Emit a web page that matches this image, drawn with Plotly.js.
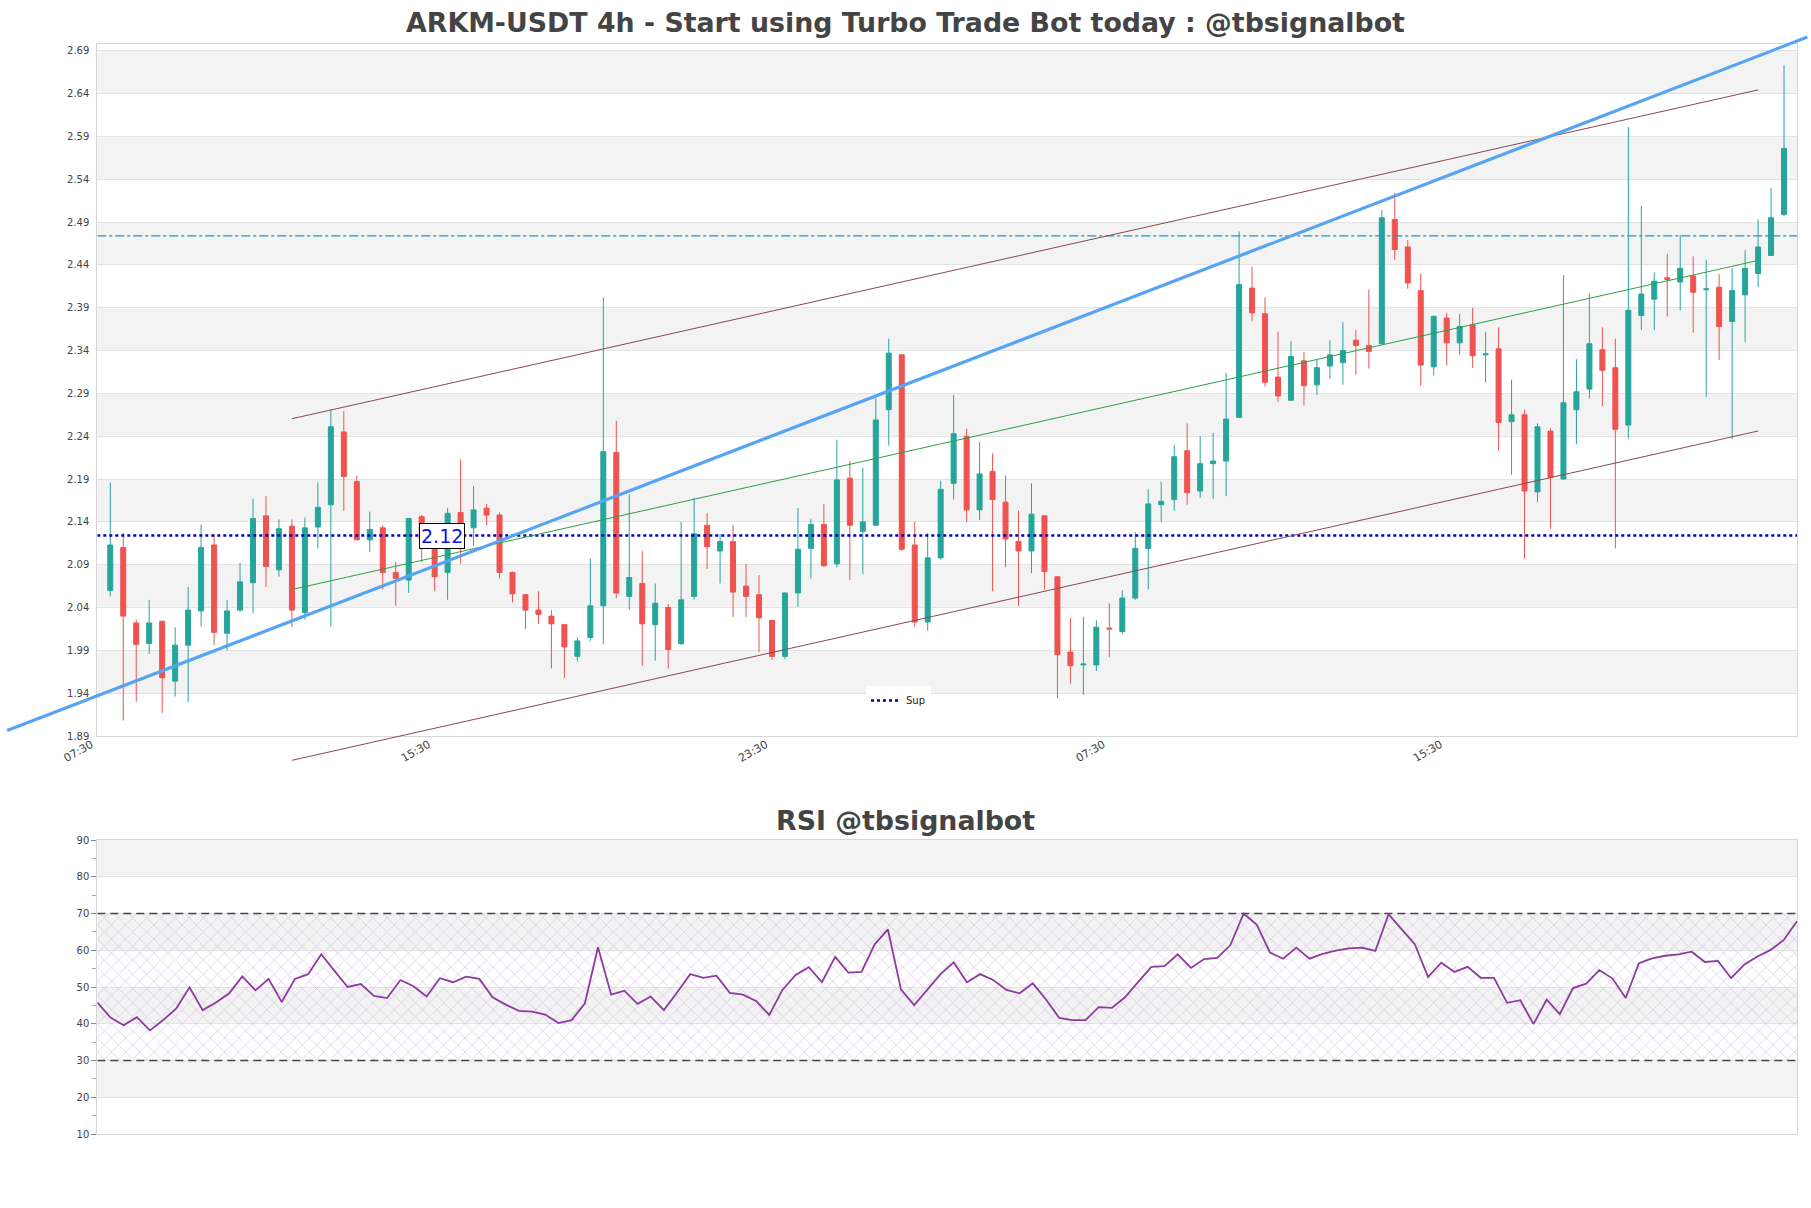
<!DOCTYPE html>
<html>
<head>
<meta charset="utf-8">
<script src="https://cdn.plot.ly/plotly-3.0.1.min.js"></script>
<style>html,body{margin:0;padding:0;background:#fff;}#chart{width:1811px;height:1208px;}</style>
</head>
<body>
<div id="chart"></div>
<script>
// ---- data ----
const opens = [2.060,2.110,2.022,1.998,2.024,1.954,1.996,2.036,2.113,2.010,
2.037,2.069,2.147,2.084,2.135,2.034,2.134,2.160,2.245,2.187,
2.119,2.133,2.081,2.072,2.146,2.118,2.081,2.151,2.133,2.156,
2.148,2.081,2.055,2.037,2.030,2.020,1.983,2.005,2.042,2.221,
2.053,2.068,2.020,2.040,1.998,2.053,2.136,2.106,2.117,2.065,
2.055,2.025,1.983,2.057,2.109,2.137,2.091,2.191,2.129,2.136,
2.271,2.335,2.113,2.023,2.098,2.185,2.240,2.154,2.199,2.163,
2.117,2.106,2.147,2.076,1.988,1.973,1.973,2.016,2.012,2.051,
2.109,2.160,2.166,2.223,2.176,2.208,2.211,2.262,2.413,2.383,
2.309,2.282,2.328,2.300,2.322,2.326,2.352,2.346,2.348,2.493,
2.461,2.410,2.321,2.378,2.349,2.370,2.335,2.342,2.257,2.265,
2.175,2.246,2.190,2.271,2.295,2.341,2.320,2.253,2.381,2.400,
2.425,2.420,2.427,2.411,2.414,2.374,2.405,2.430,2.451,2.499];
const highs = [2.186,2.127,2.026,2.049,2.024,2.017,2.064,2.137,2.126,2.049,
2.092,2.167,2.170,2.143,2.143,2.145,2.186,2.271,2.269,2.194,
2.152,2.136,2.093,2.144,2.148,2.120,2.156,2.213,2.182,2.161,
2.151,2.082,2.055,2.059,2.037,2.020,2.005,2.097,2.402,2.258,
2.172,2.106,2.068,2.044,2.140,2.168,2.150,2.126,2.136,2.091,
2.078,2.025,2.057,2.156,2.144,2.161,2.236,2.211,2.203,2.285,
2.354,2.335,2.140,2.127,2.188,2.288,2.249,2.233,2.220,2.194,
2.153,2.185,2.148,2.076,2.028,2.029,2.025,2.045,2.060,2.128,
2.178,2.187,2.230,2.255,2.240,2.244,2.314,2.479,2.438,2.402,
2.362,2.351,2.338,2.329,2.352,2.373,2.364,2.411,2.504,2.524,
2.469,2.430,2.380,2.384,2.383,2.390,2.362,2.367,2.306,2.271,
2.255,2.249,2.428,2.330,2.407,2.367,2.354,2.601,2.509,2.431,
2.453,2.475,2.450,2.446,2.429,2.436,2.457,2.493,2.530,2.673];
const lows = [2.053,1.908,1.930,1.986,1.917,1.936,1.930,2.018,1.996,1.990,
2.035,2.033,2.064,2.076,2.017,2.026,2.109,2.018,2.153,2.119,
2.105,2.061,2.042,2.057,2.093,2.059,2.049,2.091,2.112,2.136,
2.074,2.046,2.015,2.021,1.969,1.958,1.977,2.001,1.997,2.051,
2.037,1.972,1.978,1.969,1.996,2.049,2.085,2.068,2.029,2.029,
1.988,1.979,1.980,2.041,2.074,2.087,2.087,2.072,2.079,2.136,
2.229,2.106,2.017,2.013,2.096,2.166,2.140,2.142,2.059,2.087,
2.042,2.080,2.061,1.934,1.951,1.938,1.966,1.982,2.009,2.049,
2.061,2.140,2.153,2.160,2.168,2.167,2.170,2.262,2.374,2.298,
2.280,2.282,2.276,2.288,2.307,2.300,2.312,2.319,2.347,2.446,
2.412,2.299,2.311,2.323,2.335,2.320,2.303,2.223,2.195,2.097,
2.163,2.132,2.189,2.231,2.284,2.275,2.109,2.237,2.364,2.364,
2.380,2.387,2.361,2.286,2.329,2.237,2.350,2.414,2.451,2.497];
const closes = [2.113,2.030,1.997,2.022,1.958,1.996,2.037,2.110,2.011,2.036,
2.070,2.144,2.088,2.132,2.037,2.133,2.157,2.251,2.193,2.119,
2.131,2.081,2.074,2.144,2.120,2.076,2.150,2.117,2.154,2.148,
2.081,2.056,2.037,2.032,2.021,1.994,2.001,2.042,2.222,2.057,
2.075,2.021,2.045,1.991,2.049,2.126,2.111,2.117,2.058,2.053,
2.028,1.983,2.057,2.108,2.137,2.089,2.189,2.136,2.140,2.259,
2.337,2.108,2.023,2.098,2.178,2.243,2.154,2.196,2.166,2.120,
2.106,2.149,2.082,1.985,1.972,1.974,2.017,2.015,2.051,2.109,
2.161,2.164,2.216,2.174,2.208,2.211,2.260,2.417,2.384,2.303,
2.287,2.333,2.299,2.320,2.335,2.340,2.346,2.339,2.495,2.458,
2.419,2.323,2.380,2.349,2.368,2.334,2.336,2.256,2.265,2.176,
2.251,2.192,2.279,2.292,2.348,2.317,2.248,2.387,2.406,2.421,
2.423,2.436,2.408,2.412,2.368,2.410,2.436,2.461,2.495,2.576];
const rsi = [45.8,41.7,39.6,41.8,38.2,41.0,44.2,49.9,43.7,45.8,
48.2,52.9,49.1,52.2,45.9,52.2,53.5,58.9,54.4,50.0,
50.8,47.6,47.0,51.9,50.2,47.4,52.4,51.3,52.8,52.2,
47.2,45.2,43.5,43.3,42.5,40.2,41.0,45.5,60.8,47.9,
49.0,45.4,47.4,43.7,48.5,53.5,52.5,53.1,48.4,47.9,
46.2,42.4,49.2,53.3,55.4,51.3,58.2,53.9,54.1,61.6,
65.7,49.3,45.1,49.3,53.5,56.7,51.3,53.5,51.9,49.2,
48.3,51.0,46.6,41.6,41.0,41.0,44.5,44.3,47.2,51.4,
55.5,55.7,58.9,55.2,57.6,57.9,61.4,70.0,66.9,59.4,
57.7,60.7,57.7,59.0,59.9,60.5,60.7,59.8,69.8,65.7,
61.6,52.7,56.6,54.1,55.5,52.5,52.5,45.7,46.4,39.9,
46.6,42.6,49.7,50.9,54.6,52.3,47.0,56.5,57.8,58.5,
58.9,59.6,56.8,57.1,52.4,56.1,58.3,60.1,62.8,67.9];

const xTickPos  = [-1, 25, 51, 77, 103];
const xTickText = ['07:30', '15:30', '23:30', '07:30', '15:30'];
const yTicks = [1.89,1.94,1.99,2.04,2.09,2.14,2.19,2.24,2.29,2.34,2.39,2.44,2.49,2.54,2.59,2.64,2.69];
const rsiTicks = [10,20,30,40,50,60,70,80,90];
const rsiLevels = [30, 70];

const supLevel = 2.124;     // "Sup" dotted line
const resLevel = 2.474;     // dash-dot line
const supLabelX = 25.6;

const trendX = [-7.95, 130.8];   const trendY = [1.8963, 2.706];
const chanX  = [14, 127];
const upperY = [2.2604, 2.6443];
const midY   = [2.0610, 2.4452];
const lowerY = [1.8616, 2.2461];

const titleText = 'ARKM-USDT 4h - Start using Turbo Trade Bot today : @tbsignalbot';
const rsiTitle  = 'RSI @tbsignalbot';

// ---- layout geometry ----
const W = 1811, H = 1208;
const N = closes.length;
const idx = closes.map((_, i) => i);
const xd  = [97.3 / W, 1797 / W];
const yd  = [1 - 736 / H, 1 - 43.5 / H];
const yd2 = [1 - 1134 / H, 1 - 840 / H];
const xr  = [-1, N];
const yr  = [1.89, 2.6985];
function extend(r, d) {
  const s = (r[1] - r[0]) / (d[1] - d[0]);
  return [r[0] - d[0] * s, r[1] + (1 - d[1]) * s];
}
const font = 'DejaVu Sans';
const gridC = '#e3e3e3', lineC = '#d6d6d6', bandC = '#f3f3f3';

const traces = [];
traces.push({
  type: 'candlestick', x: idx, open: opens, high: highs, low: lows, close: closes,
  xaxis: 'x', yaxis: 'y', showlegend: false, whiskerwidth: 0,
  increasing: {line: {color: '#26a69a', width: 1}, fillcolor: '#26a69a'},
  decreasing: {line: {color: '#ef5350', width: 1}, fillcolor: '#ef5350'},
  hoverinfo: 'skip'
});
traces.push({type: 'scatter', mode: 'lines', x: xr, y: [resLevel, resLevel], xaxis: 'x', yaxis: 'y',
  line: {color: '#1b95d4', width: 1.3, dash: 'dashdot'}, showlegend: false, hoverinfo: 'skip'});
traces.push({type: 'scatter', mode: 'lines', x: xr, y: [supLevel, supLevel], xaxis: 'x', yaxis: 'y',
  name: 'Sup', line: {color: '#0000b8', width: 2.5, dash: 'dot'}, showlegend: true, hoverinfo: 'skip'});

// lines that may extend past the plot box: drawn on a full-figure overlay with the same scale
const ov = {xaxis: 'x3', yaxis: 'y3', type: 'scatter', mode: 'lines', showlegend: false, hoverinfo: 'skip'};
traces.push(Object.assign({}, ov, {x: chanX, y: upperY, line: {color: '#8a4656', width: 1}}));
traces.push(Object.assign({}, ov, {x: chanX, y: lowerY, line: {color: '#8a4656', width: 1}}));
traces.push(Object.assign({}, ov, {x: chanX, y: midY, line: {color: '#2e9e48', width: 1}}));
traces.push(Object.assign({}, ov, {x: trendX, y: trendY, line: {color: '#56a4f2', width: 3.2}}));

// RSI panel
const rx = [0, N - 1];
traces.push({type: 'scatter', mode: 'lines', x: rx, y: [rsiLevels[0], rsiLevels[0]], xaxis: 'x2', yaxis: 'y2',
  line: {width: 0, color: 'rgba(0,0,0,0)'}, showlegend: false, hoverinfo: 'skip'});
traces.push({type: 'scatter', mode: 'lines', x: rx, y: [rsiLevels[1], rsiLevels[1]], xaxis: 'x2', yaxis: 'y2',
  line: {width: 0, color: 'rgba(0,0,0,0)'}, fill: 'tonexty', fillcolor: 'rgba(228,210,236,0.3)',
  fillpattern: {shape: 'x', fgcolor: '#c4aed3', fgopacity: 0.7, bgcolor: 'rgba(0,0,0,0)', size: 10, solidity: 0.13},
  showlegend: false, hoverinfo: 'skip'});
rsiLevels.forEach(l => traces.push({type: 'scatter', mode: 'lines', x: rx, y: [l, l], xaxis: 'x2', yaxis: 'y2',
  line: {color: '#444', width: 1.3, dash: '8px,5px'}, showlegend: false, hoverinfo: 'skip'}));
traces.push({type: 'scatter', mode: 'lines', x: idx, y: rsi, xaxis: 'x2', yaxis: 'y2',
  line: {color: '#8e3a9f', width: 1.8}, showlegend: false, hoverinfo: 'skip'});

// background bands
const shapes = [];
for (let i = 1; i < yTicks.length - 1; i += 2) {
  shapes.push({type: 'rect', xref: 'x domain', yref: 'y', x0: 0, x1: 1, y0: yTicks[i], y1: yTicks[i + 1],
    fillcolor: bandC, line: {width: 0}, layer: 'below'});
}
for (let i = 1; i < rsiTicks.length - 1; i += 2) {
  shapes.push({type: 'rect', xref: 'x2 domain', yref: 'y2', x0: 0, x1: 1, y0: rsiTicks[i], y1: rsiTicks[i + 1],
    fillcolor: bandC, line: {width: 0}, layer: 'below'});
}

const layout = {
  width: W, height: H,
  margin: {l: 0, r: 0, t: 0, b: 0},
  paper_bgcolor: '#ffffff', plot_bgcolor: 'rgba(0,0,0,0)',
  font: {family: font, size: 10, color: '#444'},
  boxgap: 0.45,
  title: {text: titleText, x: 0.5, xanchor: 'center', xref: 'paper', y: 1 - 23 / H, yanchor: 'middle', yref: 'container',
    font: {family: font, size: 26.8, color: '#444', weight: 'bold'}},
  showlegend: true,
  legend: {x: 866 / W, y: 1 - 686 / H, xanchor: 'left', yanchor: 'top', bgcolor: '#ffffff',
    font: {family: font, size: 10, color: '#222'}, borderwidth: 0},
  xaxis: {domain: xd, range: xr, anchor: 'y', tickvals: xTickPos, ticktext: xTickText, tickangle: -30,
    showgrid: false, zeroline: false, showline: true, mirror: true, linecolor: lineC, linewidth: 1,
    ticks: '', ticklabelshift: -6, ticklabelstandoff: -3,
    tickfont: {size: 11, color: '#444'}, rangeslider: {visible: false}, fixedrange: true},
  yaxis: {domain: yd, range: yr, anchor: 'x', tickvals: yTicks, ticktext: yTicks.map(v => v.toFixed(2)),
    showgrid: true, gridcolor: gridC, zeroline: false, showline: true, mirror: true, linecolor: lineC,
    ticks: 'outside', ticklen: 5, tickcolor: 'rgba(0,0,0,0)', tickfont: {size: 10, color: '#444'}, fixedrange: true},
  xaxis2: {domain: xd, range: rx, anchor: 'y2', showticklabels: false, showgrid: false, zeroline: false,
    showline: true, mirror: true, linecolor: lineC, ticks: '', fixedrange: true},
  yaxis2: {domain: yd2, range: [rsiTicks[0], rsiTicks[rsiTicks.length - 1]], anchor: 'x2', tickvals: rsiTicks,
    showgrid: true, gridcolor: gridC, zeroline: false, showline: true, mirror: true, linecolor: lineC,
    ticks: 'outside', ticklen: 5, tickcolor: '#888', tickfont: {size: 10, color: '#444'},
    minor: {dtick: 5, tick0: 5, ticks: 'outside', ticklen: 4, tickcolor: '#aaa', showgrid: false}, fixedrange: true},
  xaxis3: {domain: [0, 1], range: extend(xr, xd), anchor: 'y3', visible: false, fixedrange: true},
  yaxis3: {domain: [0, 1], range: extend(yr, yd), anchor: 'x3', visible: false, fixedrange: true},
  shapes: shapes,
  annotations: [
    {xref: 'paper', yref: 'paper', x: 0.5, y: 1 - 820 / H, xanchor: 'center', yanchor: 'middle', showarrow: false,
      text: rsiTitle, font: {family: font, size: 26.8, color: '#444', weight: 'bold'}},
    {xref: 'x', yref: 'y', x: supLabelX, y: supLevel, xanchor: 'center', yanchor: 'middle', showarrow: false,
      text: supLevel.toFixed(2), font: {family: font, size: 19, color: '#1010e0'},
      bgcolor: '#ffffff', bordercolor: '#000000', borderwidth: 1, borderpad: 1}
  ]
};

Plotly.newPlot('chart', traces, layout, {displayModeBar: false, staticPlot: true});
</script>
</body>
</html>
